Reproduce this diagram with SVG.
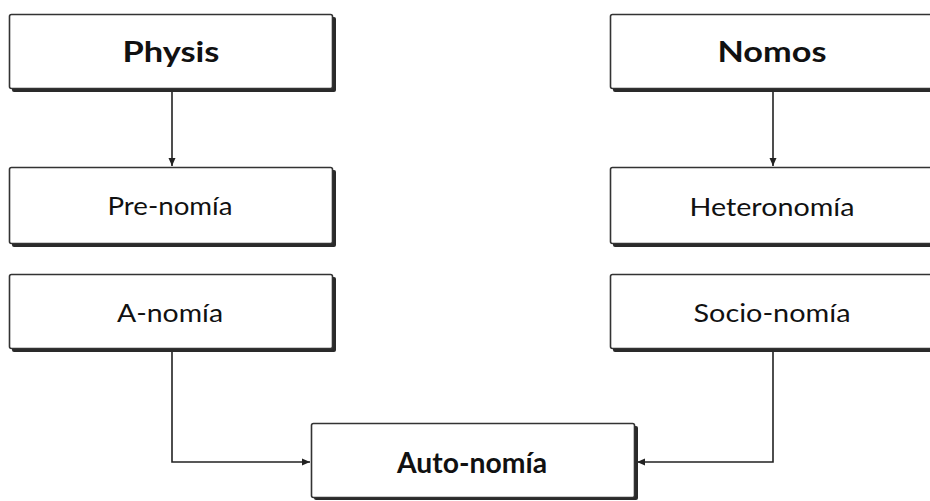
<svg xmlns="http://www.w3.org/2000/svg" width="930" height="501" viewBox="0 0 930 501">
<defs>
<marker id="arr" markerWidth="9" markerHeight="9" refX="8" refY="4.5" orient="auto" markerUnits="userSpaceOnUse">
<path d="M0,1 L8,4.5 L0,8 Z" fill="#222"/>
</marker>
<style>
.sh{fill:#2a2a2a;}
.bx{fill:#fff;stroke:#333;stroke-width:1.6;}
.t{font-family:"Lato","Liberation Sans",sans-serif;fill:#111;text-anchor:middle;}
.b{font-weight:bold;font-size:28px;}
.r{font-size:25px;}
.c{fill:none;stroke:#222;stroke-width:1.6;}
</style>
</defs>
<rect width="930" height="501" fill="#fff"/>
<g id="connectors">
<path class="c" d="M172,90 V166" marker-end="url(#arr)"/>
<path class="c" d="M773,90 V166" marker-end="url(#arr)"/>
<path class="c" d="M172,350 V462 H310" marker-end="url(#arr)"/>
<path class="c" d="M773,350 V462 H637" marker-end="url(#arr)"/>
</g>
<g id="physis">
<rect class="sh" x="12" y="17" width="324" height="75" rx="2"/>
<rect class="bx" x="9.5" y="14.5" width="323" height="74" rx="2"/>
<text class="t b" x="171" y="62" textLength="97" lengthAdjust="spacingAndGlyphs">Physis</text>
</g>
<g id="nomos">
<rect class="sh" x="613" y="17" width="330" height="75" rx="2"/>
<rect class="bx" x="610.5" y="14.5" width="330" height="74" rx="2"/>
<text class="t b" x="772" y="62" textLength="109" lengthAdjust="spacingAndGlyphs">Nomos</text>
</g>
<g id="prenomia">
<rect class="sh" x="12" y="170" width="324" height="77" rx="2"/>
<rect class="bx" x="9.5" y="167.5" width="323" height="76" rx="2"/>
<text class="t r" x="170" y="215" textLength="125" lengthAdjust="spacingAndGlyphs">Pre-nomía</text>
</g>
<g id="heteronomia">
<rect class="sh" x="613" y="170" width="330" height="77" rx="2"/>
<rect class="bx" x="610.5" y="167.5" width="330" height="76" rx="2"/>
<text class="t r" x="772" y="216" textLength="165" lengthAdjust="spacingAndGlyphs">Heteronomía</text>
</g>
<g id="anomia">
<rect class="sh" x="12" y="277" width="324" height="75" rx="2"/>
<rect class="bx" x="9.5" y="274.5" width="323" height="74" rx="2"/>
<text class="t r" x="170" y="322" textLength="106" lengthAdjust="spacingAndGlyphs">A-nomía</text>
</g>
<g id="socionomia">
<rect class="sh" x="613" y="277" width="330" height="75" rx="2"/>
<rect class="bx" x="610.5" y="274.5" width="330" height="74" rx="2"/>
<text class="t r" x="772" y="322" textLength="157" lengthAdjust="spacingAndGlyphs">Socio-nomía</text>
</g>
<g id="autonomia">
<rect class="sh" x="314" y="426" width="324" height="74" rx="2"/>
<rect class="bx" x="311.5" y="423.5" width="323" height="74" rx="2"/>
<text class="t b" x="472" y="473" textLength="150" lengthAdjust="spacingAndGlyphs">Auto-nomía</text>
</g>
</svg>
